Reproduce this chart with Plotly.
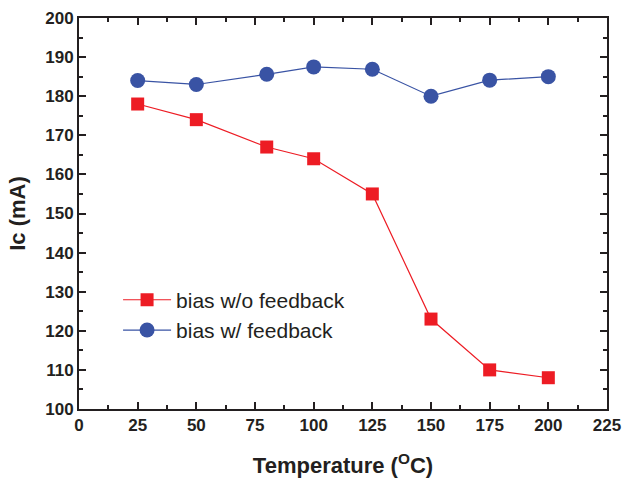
import plotly.graph_objects as go

temperature = [25, 50, 80, 100, 125, 150, 175, 200]
ic_without_feedback = [178, 174, 167, 164, 155, 123, 110, 108]
ic_with_feedback = [184, 183, 185.6, 187.5, 186.9, 180, 184.1, 185]

series_names = ["bias w/o feedback", "bias w/ feedback"]
x_ticks = [0, 25, 50, 75, 100, 125, 150, 175, 200, 225]
y_ticks = [100, 110, 120, 130, 140, 150, 160, 170, 180, 190, 200]

RED = "#ED1C24"
BLUE = "#3953A4"
AXIS = "#231F20"
FONT = "Arial, Liberation Sans, sans-serif"

fig = go.Figure()
fig.add_trace(go.Scatter(
    x=temperature, y=ic_without_feedback, name=series_names[0],
    mode="lines+markers",
    line=dict(color=RED, width=1.2),
    marker=dict(symbol="square", size=13, color=RED),
))
fig.add_trace(go.Scatter(
    x=temperature, y=ic_with_feedback, name=series_names[1],
    mode="lines+markers",
    line=dict(color=BLUE, width=1.2),
    marker=dict(symbol="circle", size=15, color=BLUE),
))

axis_common = dict(
    showline=True, linecolor=AXIS, linewidth=2, mirror="allticks",
    ticks="inside", ticklen=7, tickwidth=2, tickcolor=AXIS,
    showgrid=False, zeroline=False, automargin=False,
    tickfont=dict(family=FONT, size=17, color=AXIS, weight="bold"),
)

fig.update_xaxes(
    range=[0, 225], tickvals=x_ticks,
    minor=dict(ticks="inside", ticklen=4, tickwidth=1.5, tickcolor=AXIS, dtick=12.5, tick0=0),
    title=dict(text="Temperature (<sup>O</sup>C)", font=dict(family=FONT, size=22, color=AXIS, weight="bold"), standoff=23),
    **axis_common,
)
fig.update_yaxes(
    range=[100, 200], tickvals=y_ticks,
    minor=dict(ticks="inside", ticklen=4, tickwidth=1.5, tickcolor=AXIS, dtick=5, tick0=100),
    title=dict(text="Ic (mA)", font=dict(family=FONT, size=22, color=AXIS, weight="bold"), standoff=14),
    **axis_common,
)

fig.update_layout(
    width=622, height=483,
    margin=dict(l=79, r=15, t=18, b=74),
    paper_bgcolor="white", plot_bgcolor="white",
    showlegend=True,
    legend=dict(
        x=0.074, y=0.331, xanchor="left", yanchor="top",
        bgcolor="rgba(0,0,0,0)",
        font=dict(family=FONT, size=21, color=AXIS),
        itemwidth=48, tracegroupgap=0,
    ),
)

# remove the default 8px page margin so the figure fills the window exactly
fig.write_html(
    "out.html",
    config={"displayModeBar": False},
    post_script="document.body.style.margin='0';document.body.style.overflow='hidden';",
)
